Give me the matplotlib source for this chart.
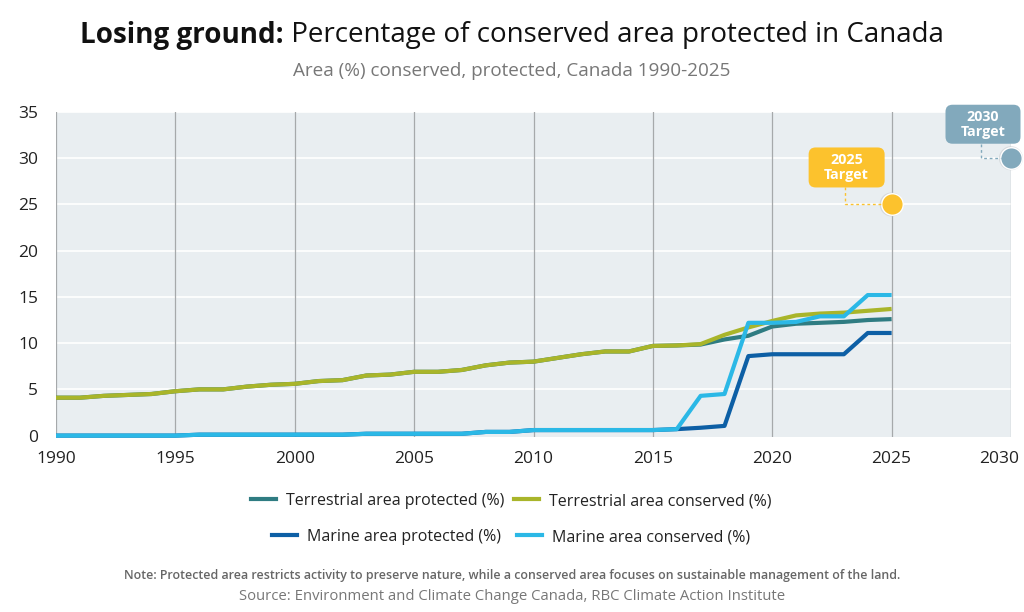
import matplotlib
matplotlib.use("Agg")
import matplotlib.pyplot as plt
from matplotlib.patches import FancyBboxPatch
from matplotlib.lines import Line2D
from matplotlib.transforms import IdentityTransform, ScaledTranslation

plt.rcParams['font.family'] = ['Open Sans', 'Noto Sans', 'DejaVu Sans']

years = list(range(1990, 2026))
terr_conserved = [4.1, 4.1, 4.3, 4.4, 4.5, 4.8, 5.0, 5.0, 5.3, 5.5, 5.6, 5.9, 6.0, 6.5, 6.6, 6.9, 6.9, 7.1, 7.6, 7.9, 8.0,
                  8.4, 8.8, 9.1, 9.1, 9.7, 9.75, 9.9, 10.9, 11.7, 12.4, 13.0, 13.2, 13.3, 13.5, 13.7]
terr_protected = [4.1, 4.1, 4.3, 4.4, 4.5, 4.8, 5.0, 5.0, 5.3, 5.5, 5.6, 5.9, 6.0, 6.5, 6.6, 6.9, 6.9, 7.1, 7.6, 7.9, 8.0,
                  8.4, 8.8, 9.1, 9.1, 9.7, 9.75, 9.85, 10.4, 10.8, 11.8, 12.1, 12.2, 12.3, 12.5, 12.6]
marine_conserved = [0.0, 0.0, 0.0, 0.0, 0.0, 0.0, 0.1, 0.1, 0.1, 0.1, 0.1, 0.1, 0.1, 0.2, 0.2, 0.2, 0.2, 0.2, 0.4, 0.4, 0.6,
                    0.6, 0.6, 0.6, 0.6, 0.6, 0.7, 4.3, 4.5, 12.2, 12.2, 12.3, 12.9, 12.9, 15.2, 15.2]
marine_protected = [0.0, 0.0, 0.0, 0.0, 0.0, 0.0, 0.1, 0.1, 0.1, 0.1, 0.1, 0.1, 0.1, 0.2, 0.2, 0.2, 0.2, 0.2, 0.4, 0.4, 0.6,
                    0.6, 0.6, 0.6, 0.6, 0.6, 0.7, 0.85, 1.05, 8.6, 8.8, 8.8, 8.8, 8.8, 11.1, 11.1]

series_labels = ["Terrestrial area protected (%)", "Terrestrial area conserved (%)",
                 "Marine area protected (%)", "Marine area conserved (%)"]
colors = ["#2f7c82", "#a9b52a", "#0d5fa5", "#2bb8e6"]

target_years = [2025, 2030]
target_values = [25, 30]
target_labels = ["2025\nTarget", "2030\nTarget"]
target_colors = ["#fcc22d", "#82a9bc"]

x_ticks = [1990, 1995, 2000, 2005, 2010, 2015, 2020, 2025, 2030]
y_ticks = [0, 5, 10, 15, 20, 25, 30, 35]

W, H = 1024, 612
fig = plt.figure(figsize=(W / 100, H / 100), dpi=100)
fig.patch.set_facecolor("white")
L, R, T, B = 56, 1011, 112, 437
ax = fig.add_axes([L / W, 1 - B / H, (R - L) / W, (B - T) / H])
ax.set_facecolor("#e9eef1")
ax.set_xlim(1990, 2030)
ax.set_ylim(-0.15, 35)
for s in ax.spines.values():
    s.set_visible(False)

for yv in y_ticks[1:]:
    ax.axhline(yv, color="white", lw=1.2, zorder=1)
for xv in x_ticks:
    ax.axvline(xv, color="#a6a9ab", lw=0.9, zorder=1)

ax.set_xticks(x_ticks)
ax.set_yticks(y_ticks)
ax.tick_params(length=0, labelsize=12.5, colors="#222222")
ax.tick_params(axis="x", pad=10)
ax.tick_params(axis="y", pad=13)
lastlab = ax.get_xticklabels()[-1]
lastlab.set_transform(lastlab.get_transform() + ScaledTranslation(-0.12, 0, fig.dpi_scale_trans))

data = [terr_protected, terr_conserved, marine_protected, marine_conserved]
z = {0: 3, 1: 4, 2: 3.5, 3: 4.5}
for i in range(4):
    ax.plot(years, data[i], color=colors[i], lw=3, zorder=z[i], solid_capstyle="butt",
            solid_joinstyle="round", clip_on=False)

# Targets
fig.canvas.draw()
box_offsets = [(-45, 37), (-28, 34)]
box_sizes = [(76, 40), (75, 39)]
for ty, tv, lab, col, off, sz in zip(target_years, target_values, target_labels,
                                     target_colors, box_offsets, box_sizes):
    px, py = ax.transData.transform((ty, tv))
    cx, cy = px + off[0], py + off[1]
    bw, bh = sz
    box = FancyBboxPatch((cx - bw / 2, cy - bh / 2), bw, bh,
                         boxstyle="round,pad=0,rounding_size=7",
                         transform=IdentityTransform(), facecolor=col,
                         edgecolor="none", zorder=6, clip_on=False)
    fig.patches.append(box)
    fig.text(cx / W, cy / H, lab, ha="center", va="center", color="white",
             fontsize=10.3, fontweight="bold", linespacing=1.05, zorder=7)
    conn = Line2D([cx - 2, cx - 2, px - 10], [cy - bh / 2, py, py],
                  transform=IdentityTransform(), color=col, lw=1, ls=(0, (2, 2)),
                  zorder=5)
    fig.lines.append(conn)
    ax.scatter([ty], [tv], s=300, color="#c8ccd0", zorder=6.5, clip_on=False,
               edgecolors="none", alpha=0.6)
    ax.scatter([ty], [tv], s=240, color=col, zorder=7, clip_on=False,
               edgecolors="white", linewidths=1.0)

# Titles
t1 = fig.text(0, 0, "Losing ground:", fontsize=20, fontweight="bold", color="#111111",
              va="center")
t2 = fig.text(0, 0, " Percentage of conserved area protected in Canada", fontsize=20,
              color="#111111", va="center")
fig.canvas.draw()
r = fig.canvas.get_renderer()
w1 = t1.get_window_extent(r).width
w2 = t2.get_window_extent(r).width
x0 = (W - w1 - w2) / 2
ty_ = 1 - 35 / H
t1.set_position((x0 / W, ty_))
t2.set_position(((x0 + w1) / W, ty_))

fig.text(0.5, 1 - 71 / H, "Area (%) conserved, protected, Canada 1990-2025", ha="center",
         va="center", fontsize=13.6, color="#777777")

# Legends
h = [Line2D([], [], color=c, lw=3) for c in colors]
fig.legend([h[0], h[1]], series_labels[:2], loc="center",
           bbox_to_anchor=(511 / W, 1 - 501 / H), ncol=2, frameon=False,
           fontsize=11.5, handlelength=1.6, handletextpad=0.6, columnspacing=0.6,
           labelcolor="#222222")
fig.legend([h[2], h[3]], series_labels[2:], loc="center",
           bbox_to_anchor=(511 / W, 1 - 537 / H), ncol=2, frameon=False,
           fontsize=11.5, handlelength=1.6, handletextpad=0.6, columnspacing=1.0,
           labelcolor="#222222")

fig.text(0.5, 1 - 576 / H,
         "Note: Protected area restricts activity to preserve nature, while a conserved area focuses on sustainable management of the land.",
         ha="center", va="center", fontsize=8.9, color="#666666", fontweight="semibold")
fig.text(0.5, 1 - 597 / H, "Source: Environment and Climate Change Canada, RBC Climate Action Institute",
         ha="center", va="center", fontsize=10.7, color="#777777")

fig.savefig("out.png", dpi=100)
